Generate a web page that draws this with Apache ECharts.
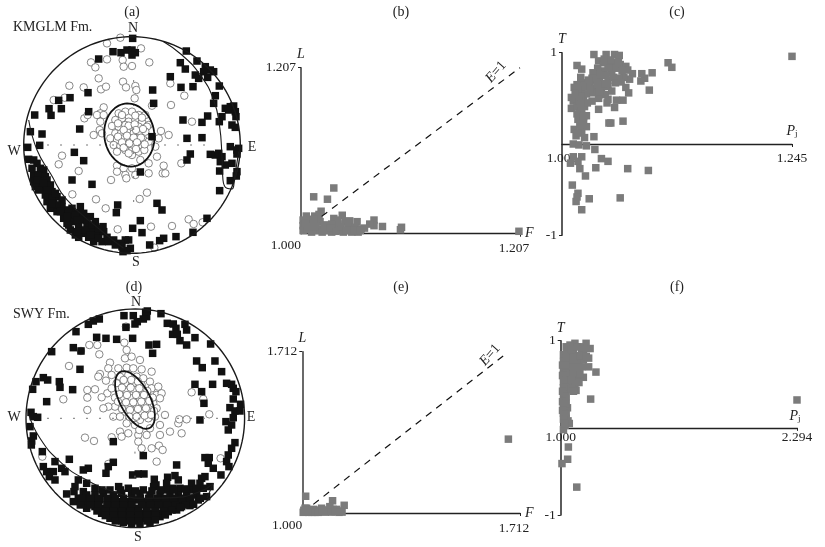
<!DOCTYPE html>
<html><head><meta charset="utf-8">
<style>html,body{margin:0;padding:0;background:#fff}#c{width:825px;height:547px}</style>
<script src="https://cdn.jsdelivr.net/npm/echarts@6/dist/echarts.min.js"></script>
</head><body><div id="c"></div>
<script>
// Stereonet (a): net units, radius 325, x east, y north
const netA_kmax=[[2,320],[-57,280],[-33,277],[-15,285],[0,285],[10,277],[0,270],[-100,258],[163,282],[195,252],[145,247],[160,228],[220,235],[235,225],[245,220],[215,220],[190,210],[200,200],[227,203],[115,205],[147,173],[183,175],[262,177],[62,165],[-132,157],[-186,142],[-220,134],[-249,109],[-212,109],[-243,89],[-130,100],[65,125],[250,148],[245,125],[305,117],[295,115],[280,110],[290,105],[310,100],[270,85],[312,85],[227,87],[-292,90],[153,75],[210,68],[262,70],[300,60],[310,53],[-157,48],[-305,40],[-270,33],[60,25],[165,20],[210,22],[295,-5],[-277,-1],[-313,-7],[320,-10],[315,-15],[315,-27],[175,-27],[165,-45],[235,-28],[250,-30],[260,-25],[270,-35],[265,-50],[280,-60],[300,-55],[-173,-22],[-145,-47],[263,-78],[315,-80],[313,-93],[295,-107],[263,-137],[25,-81],[-180,-105],[-120,-118],[75,-175],[90,-195],[-43,-180],[-47,-203],[25,-227],[2,-250],[30,-263],[225,-220],[183,-262],[132,-275],[95,-280],[83,-287],[53,-300],
[-310,-43],[-295,-45],[-285,-55],[-275,-70],[-265,-75],[-295,-90],[-280,-90],[-260,-95],[-295,-110],[-275,-110],[-255,-105],[-290,-125],[-270,-130],[-245,-120],[-260,-150],[-240,-140],[-225,-155],[-210,-165],[-255,-170],[-235,-175],[-210,-185],[-245,-190],[-225,-200],[-200,-205],[-180,-190],[-155,-185],[-205,-220],[-185,-215],[-160,-205],[-145,-205],[-195,-235],[-175,-230],[-150,-225],[-125,-215],[-185,-255],[-160,-245],[-135,-240],[-110,-230],[-170,-270],[-145,-265],[-120,-255],[-87,-245],[-160,-277],[-130,-277],[-105,-270],[-85,-260],[-115,-290],[-90,-290],[-55,-285],[-75,-277],[-20,-285],[-35,-295],[-10,-285],[-30,-305],[-5,-310],[-27,-320],[-15,-317],
[-300,-70],[-285,-105],[-265,-115],[-280,-135],[-250,-155],[-240,-160],[-225,-180],[-190,-195],[-170,-210],[-190,-240],[-165,-260],[-140,-255],[-125,-270],[-100,-280],[-135,-225],[-120,-240],[-100,-250],[-70,-290],[-50,-300],[-215,-200],[-195,-215],[-165,-225],[-230,-145],[-255,-135],[-240,-175]];
const netA_kmin=[[-35,322],[-75,305],[27,290],[-75,257],[-123,248],[-110,233],[-28,255],[-25,235],[0,237],[52,248],[-100,200],[-188,178],[-145,173],[-93,167],[-78,175],[-27,190],[-18,173],[10,177],[13,165],[115,185],[-235,135],[-202,142],[8,140],[157,148],[60,118],[117,120],[-85,113],[-95,95],[-143,80],[-133,90],[-105,90],[-85,90],[-95,70],[-97,45],[-115,30],[-90,35],[180,70],
[-40,95],[-20,100],[0,100],[20,90],[40,90],[-50,75],[-30,80],[-10,70],[10,75],[30,70],[50,60],[-60,57],[-40,55],[-20,60],[0,50],[20,55],[45,55],[-50,35],[-33,35],[-15,40],[5,35],[25,35],[40,40],[-65,20],[-45,15],[-25,20],[-5,15],[15,20],[35,15],[50,10],[-55,0],[-35,-3],[-15,0],[5,0],[25,-5],[-45,-20],[-20,-15],[0,-30],[20,-20],[37,-15],
[-30,90],[10,88],[30,82],[-42,65],[-10,58],[8,62],[33,48],[-25,45],[12,45],[-42,25],[-15,28],[5,22],[27,22],[-30,8],[-8,5],[15,8],[38,2],[-25,-8],[12,-12],[-10,-25],
[87,42],[110,30],[80,20],[70,-5],[75,-35],[-210,-32],[-220,-58],[-160,-78],[-45,-62],[-25,-70],[0,-70],[25,-45],[50,-55],[-45,-80],[-20,-90],[10,-90],[50,-85],[95,-62],[92,-85],[100,-85],[-63,-105],[-17,-100],[148,-55],[45,-143],[23,-162],[-108,-163],[-179,-148],[-79,-190],[170,-223],[185,-237],[212,-232],[120,-243],[57,-245],[-43,-253],[67,-308]];
const netA_arcE=[[95,310],[150,270],[205,210],[245,135],[263,55],[270,-35],[273,-105],[285,-130],[300,-132],[308,-95],[320,-20]];
const netA_arcW=[[-310,75],[-285,-15],[-245,-85],[-195,-165],[-95,-255],[-25,-310]];
const netA_oval={cx:-8,cy:30,major:95,minor:75,tilt:-8};
// Stereonet (d): radius 328
const netD_kmax=[[36,322],[31,318],[77,314],[-34,308],[-6,308],[34,305],[24,298],[6,290],[-1,283],[-108,298],[-126,292],[-141,282],[96,285],[114,283],[149,282],[122,270],[154,265],[112,252],[126,252],[-28,273],[-178,260],[-116,243],[-88,240],[-56,237],[-8,240],[179,242],[154,220],[134,233],[226,223],[41,220],[64,222],[52,195],[-186,212],[-163,202],[-251,200],[184,172],[239,172],[201,152],[-166,147],[259,140],[-276,122],[-263,115],[-298,110],[-228,110],[-226,93],[-308,87],[-188,86],[179,102],[232,102],[199,80],[274,105],[289,102],[294,90],[302,80],[206,45],[294,58],[316,42],[-266,50],[284,32],[299,22],[314,22],[-313,18],[-306,5],[-293,3],[194,-5],[294,2],[272,-10],[289,-20],[279,-35],[-316,-25],[-306,-53],[-311,-68],[-312,-80],[-66,-70],[299,-73],[289,-90],[24,-112],[279,-110],[274,-130],[281,-145],[209,-118],[222,-118],[219,-135],[234,-150],[-279,-100],[-198,-123],[-241,-130],[-66,-132],[-81,-145],[-141,-150],[-156,-155],[124,-140],[-88,-165],[257,-170],[-8,-170],[9,-167],[26,-167],[97,-177],[119,-172],[129,-185],[57,-183],[62,-200],[94,-195],[112,-210],
[-276,-145],[-266,-160],[-246,-160],[-221,-150],[-211,-160],[-258,-175],[-241,-185],[-171,-185],[-181,-205],[-146,-195],[-121,-210],[-206,-227],[-184,-220],[-156,-220],
[-76,-215],[-21,-210],[24,-215],[94,-215],[169,-195],[199,-180],[209,-175],[194,-195],[224,-205],[164,-215],[134,-210],[204,-210],[184,-210],[-50,-205],[55,-205],
[-171,-240],[-146,-230],[-121,-230],[-96,-225],[-66,-230],[-41,-225],[-11,-225],[14,-225],[44,-230],[74,-230],[104,-230],[129,-230],[154,-225],[184,-230],[214,-235],
[-186,-250],[-156,-250],[-131,-250],[-106,-245],[-76,-250],[-51,-250],[-26,-250],[4,-245],[29,-250],[54,-250],[84,-250],[109,-250],[134,-250],[159,-245],[189,-245],
[-146,-270],[-121,-265],[-96,-270],[-71,-265],[-46,-270],[-21,-265],[4,-270],[34,-265],[59,-270],[84,-265],[109,-265],[139,-265],[164,-262],
[-101,-285],[-76,-285],[-51,-285],[-26,-285],[-1,-285],[24,-285],[49,-285],[74,-285],[99,-280],[124,-275],
[-76,-300],[-51,-300],[-26,-300],[-1,-300],[24,-300],[49,-300],[74,-295],
[-36,-312],[-11,-318],[14,-318],[44,-315],
[-160,-240],[-135,-240],[-110,-240],[-85,-240],[-60,-240],[-35,-240],[-10,-240],[15,-240],[40,-240],[65,-240],[90,-240],[115,-240],[140,-240],[165,-240],[195,-240],
[-165,-260],[-135,-260],[-110,-260],[-85,-260],[-60,-260],[-35,-260],[-10,-260],[19,-260],[45,-260],[70,-260],[95,-260],[120,-260],[150,-260],[175,-258],
[-115,-278],[-90,-278],[-65,-278],[-40,-278],[-15,-278],[10,-278],[35,-278],[60,-278],[85,-278],[110,-275],[135,-268],
[-90,-292],[-65,-292],[-40,-292],[-15,-292],[10,-292],[35,-292],[60,-292],[90,-290],
[-60,-308],[-40,-308],[-15,-308],[10,-308],[35,-308],[60,-305],
[-100,-215],[-45,-215],[0,-218],[50,-218],[75,-215],[115,-215],[150,-212]];
const netD_kmin=[[-28,275],[-138,220],[-114,220],[-108,192],[-163,202],[-199,157],[-33,227],[-26,205],[-31,180],[-11,185],[14,175],[-76,167],[-81,150],[-51,150],[-26,152],[-6,150],[19,147],[49,140],[-106,133],[-88,113],[-71,130],
[-46,125],[-21,130],[4,125],[24,120],[-56,105],[-31,105],[-6,105],[19,100],[44,110],[-51,85],[-26,80],[-1,85],[24,80],[49,90],[69,95],[-61,62],[-36,60],[-11,60],[14,60],[39,65],[64,70],[79,75],[-46,40],[-21,35],[4,40],[29,40],[54,45],[74,60],[-31,20],[-6,15],[19,20],[44,20],[64,30],[-61,35],[-81,35],[-96,30],[-11,-5],[14,-5],[39,0],[59,5],[89,10],[-66,5],[-46,5],[-26,-15],[-1,-20],
[-35,115],[-12,115],[8,110],[-40,92],[-14,92],[12,90],[36,82],[-48,72],[-25,70],[2,70],[26,70],[52,62],[-52,50],[-28,48],[-6,48],[18,50],[42,52],[-40,28],[-16,25],[8,28],[32,30],[56,22],[-18,5],[4,5],[28,8],[48,10],
[-144,85],[-144,62],[-121,87],[-84,75],[-101,63],[-71,90],[-111,125],[-216,57],[-144,25],[-151,-58],[-124,-68],[-71,-57],[-46,-40],[-41,-55],[-21,-45],[9,-50],[34,-50],[74,-50],[104,-40],[139,-45],[129,-15],[132,-3],[154,-3],[222,12],[204,58],[169,78],[9,-70],[19,-90],[49,-90],[71,-82],[82,-95],[64,-130],[-81,-137],[-279,-115],[256,-120],[12,-35],[44,-30],[74,-20]];
const netD_arc=[[-321,15],[-286,-60],[-226,-130],[-156,-180],[-66,-220],[24,-240],[114,-238],[194,-220],[234,-195],[215,-240]];
const netD_oval={cx:-1,cy:55,major:95,minor:45,tilt:-28};
// Flinn diagrams
const flinnB=[[1.206,1.003],[1.031,1.057],[1.012,1.046],[1.025,1.043],[1.019,1.028],[1.077,1.009],[1.095,1.008],[1.094,1.005],[1.069,1.017],[1.069,1.010],[1.065,1.012],[1.005,1.022],[1.013,1.022],[1.039,1.023],[1.017,1.024],[1.031,1.019],[1.053,1.015],[1.046,1.016],[1.002,1.017],[1.002,1.010],[1.002,1.004],[1.007,1.015],[1.009,1.008],[1.012,1.012],[1.010,1.002],[1.015,1.004],[1.018,1.015],[1.018,1.006],[1.026,1.008],[1.029,1.002],[1.031,1.008],[1.035,1.012],[1.037,1.004],[1.040,1.002],[1.042,1.015],[1.045,1.008],[1.048,1.002],[1.051,1.008],[1.054,1.002],[1.057,1.006],[1.060,1.007],[1.035,1.017],[1.023,1.004],[1.029,1.012],
[1.006,1.005],[1.014,1.009],[1.022,1.011],[1.028,1.007],[1.033,1.003],[1.038,1.009],[1.043,1.004],[1.050,1.004],[1.056,1.004],[1.020,1.002],[1.007,1.009],[1.012,1.018],[1.004,1.013]];
const flinnE=[[1.674,1.326],[1.011,1.074],[1.099,1.054],[1.137,1.034],[1.112,1.016],[1.003,1.003],[1.014,1.021],[1.025,1.009],[1.036,1.016],[1.047,1.006],[1.058,1.013],[1.069,1.006],[1.080,1.013],[1.090,1.009],[1.101,1.016],[1.123,1.009],[1.009,1.021],[1.031,1.003],[1.063,1.021],[1.090,1.028],
[1.020,1.003],[1.042,1.003],[1.052,1.003],[1.075,1.004],[1.095,1.004],[1.108,1.006],[1.120,1.003],[1.130,1.004],[1.065,1.012],[1.015,1.008],[1.005,1.012]];
const lineB=[[1.0195,1.0216],[1.207,1.207]];
const lineE=[[1.036,1.038],[1.668,1.705]];
// Pj-T diagrams
const pjtC=[[1.245,.96],[1.113,.89],[1.117,.84],[1.096,.78],[1.085,.77],[1.088,.72],[1.084,.69],[1.093,.59],[1.068,.62],[1.071,.56],[1.065,.48],[1.058,.48],[1.056,.40],[1.049,.49],[1.048,.45],[1.039,.38],[1.065,.25],[1.052,.23],[1.050,.23],[1.034,.08],[1.034,.98],[1.047,.98],[1.056,.98],[1.061,.97],[1.039,.91],[1.044,.89],[1.049,.87],[1.055,.89],[1.062,.87],[1.068,.85],[1.070,.81],[1.075,.77],[1.072,.71],[1.066,.73],[1.060,.72],[1.053,.78],[1.044,.80],[1.037,.76],[1.040,.70],[1.049,.70],[1.035,.70],[1.030,.67],[1.023,.67],[1.016,.65],[1.021,.59],[1.028,.63],[1.035,.61],[1.042,.61],[1.049,.63],[1.053,.58],[1.046,.54],[1.039,.50],[1.032,.47],[1.016,.86],[1.021,.82],[1.020,.73],[1.010,.51],[1.017,.54],[1.023,.49],[1.012,.47],[1.010,.39],[1.016,.41],[1.024,.41],[1.019,.34],[1.026,.31],[1.017,.27],[1.023,.25],[1.013,.16],[1.026,.19],[1.021,.14],[1.015,.09],[1.024,.07],[1.012,.00],[1.018,-.01],[1.026,-.02],[1.035,-.06],[1.021,-.14],[1.012,-.14],[1.009,-.21],[1.017,-.19],[1.042,-.16],[1.049,-.19],[1.019,-.27],[1.036,-.26],[1.070,-.27],[1.092,-.29],[1.025,-.35],[1.011,-.45],[1.017,-.54],[1.016,-.58],[1.015,-.63],[1.029,-.60],[1.062,-.59],[1.021,-.72],
[1.045,.93],[1.038,.83],[1.051,.83],[1.058,.83],[1.064,.80],[1.060,.90],[1.052,.92],[1.033,.78],[1.041,.76],[1.047,.75],[1.055,.73],[1.032,.72],[1.028,.70],[1.045,.66],[1.038,.65],[1.022,.63],[1.017,.60],[1.013,.62],[1.026,.55],[1.033,.56],[1.040,.57],[1.020,.52],[1.014,.56],[1.018,.47],[1.027,.45],[1.021,.38],[1.016,.33],[1.023,.30],[1.019,.21],[1.017,.12],[1.020,.44],[1.057,.67],[1.063,.68],[1.030,.60]];
const pjtF=[[2.294,.32],[1.193,.64],[1.164,.33],[1.153,.70],[1.153,.80],[1.161,.91],[1.139,.97],[1.124,.58],[1.084,.43],[1.047,.05],[1.042,-.22],[1.038,-.36],[1.007,-.41],[1.088,-.68],[1.078,.97],[1.051,.95],[1.106,.93],[1.033,.89],[1.069,.89],[1.115,.86],[1.015,.84],[1.051,.82],[1.088,.82],[1.124,.78],[1.015,.76],[1.051,.74],[1.088,.74],[1.115,.70],[1.015,.68],[1.051,.67],[1.088,.67],[1.015,.61],[1.051,.59],[1.088,.59],[1.015,.53],[1.042,.51],[1.078,.51],[1.015,.46],[1.042,.44],[1.015,.38],[1.024,.32],[1.015,.24],[1.037,.23],[1.015,.17],[1.029,.11],[1.024,.03],[1.015,-.02],
[1.03,.93],[1.06,.90],[1.09,.93],[1.125,.90],[1.03,.80],[1.07,.80],[1.105,.83],[1.14,.82],[1.01,.72],[1.03,.72],[1.07,.70],[1.10,.70],[1.03,.63],[1.07,.62],[1.105,.62],[1.01,.60],[1.03,.55],[1.06,.55],[1.10,.52],[1.03,.47],[1.06,.45],[1.07,.42],[1.01,.42],[1.03,.36],[1.01,.30],[1.03,.28],[1.01,.20],[1.03,.16],[1.04,.08],[1.015,.10],[1.02,.05]];
// Tick labels
const ticksB=[1.000,1.207], ticksC=[1.000,1.245], ticksE=[1.000,1.712], ticksF=[1.000,2.294], ticksT=[-1,1];

const SERIF='"Liberation Serif","Times New Roman",serif';
const gray='#7b7b7b', ink='#1a1a1a';
function oval(o){const p=[],t=o.tilt*Math.PI/180;for(let i=0;i<=72;i++){const a=i/72*2*Math.PI,u=o.minor*Math.cos(a),v=o.major*Math.sin(a);p.push([o.cx+u*Math.cos(t)+v*Math.sin(t),o.cy-u*Math.sin(t)+v*Math.cos(t)]);}return p;}
const grids=[],xAxes=[],yAxes=[],series=[];
function addNet(box,R,kmin,kmax,arcs,ov,hx,vx){
  const g=grids.length;grids.push(box);
  xAxes.push({gridIndex:g,type:'value',min:-R,max:R,show:false});
  yAxes.push({gridIndex:g,type:'value',min:-R,max:R,show:false});
  const L=(data,w,c,extra)=>series.push(Object.assign({type:'line',xAxisIndex:g,yAxisIndex:g,data,symbol:'none',silent:true,clip:false,lineStyle:{width:w,color:c}},extra||{}));
  L(hx,1,'#777',{lineStyle:{width:1,color:'#777',type:[2,11]}});
  L(vx,1,'#777',{lineStyle:{width:1,color:'#777',type:[2,22]}});
  series.push({type:'scatter',xAxisIndex:g,yAxisIndex:g,data:kmin,symbol:'circle',symbolSize:7.5,clip:false,itemStyle:{color:'#fff',borderColor:'#555',borderWidth:.7,opacity:1}});
  series.push({type:'scatter',xAxisIndex:g,yAxisIndex:g,data:kmax,symbol:'rect',symbolSize:7.5,clip:false,itemStyle:{color:'#111',opacity:1}});
  const ci=[];for(let i=0;i<=144;i++){const a=i/144*2*Math.PI;ci.push([R*Math.cos(a),R*Math.sin(a)]);}
  L(ci,1.4,ink);
  arcs.forEach(a=>L(a,1.1,ink,{smooth:.5}));
  L(oval(ov),1.8,'#111');
}
function addPlot(box,xr,yr,xt,yt,pts,line,xn,yn,gapX,gapY,lblMargin){
  const g=grids.length;grids.push(box);
  const font={fontFamily:SERIF,fontSize:13.5,color:'#222'};
  xAxes.push({gridIndex:g,type:'value',min:xr[0],max:xr[1],splitLine:{show:false},position:'bottom',offset:line?0:-box.height/2,
    name:xn,nameLocation:'end',nameGap:gapX,nameMoveOverlap:false,nameTextStyle:{fontFamily:SERIF,fontSize:14,fontStyle:'italic',color:'#222'},
    axisLine:{show:true,onZero:false,lineStyle:{color:'#222',width:1.3}},
    axisTick:{show:true,length:3,inside:false,customValues:[xt[1]],lineStyle:{color:'#222'}},
    axisLabel:Object.assign({show:true,customValues:xt,margin:lblMargin,formatter:v=>{const s=(+v).toFixed(3);return line&&+v===xt[1]?'{m|'+s+'}':s;},rich:{m:{fontFamily:SERIF,fontSize:13.5,color:'#222',padding:[3,12,0,0]}},alignMinLabel:line?'right':'center',alignMaxLabel:'center',showMinLabel:true,showMaxLabel:true,hideOverlap:false},font)});
  yAxes.push({gridIndex:g,type:'value',min:yr[0],max:yr[1],splitLine:{show:false},
    name:yn,nameLocation:'end',nameGap:gapY,nameMoveOverlap:false,nameTextStyle:{fontFamily:SERIF,fontSize:14,fontStyle:'italic',color:'#222'},
    axisLine:{show:true,onZero:false,lineStyle:{color:line?'#444':'#333',width:1.6}},
    axisTick:{show:true,length:3,customValues:yt,lineStyle:{color:'#222'}},
    axisLabel:Object.assign({show:true,customValues:yt,margin:5,formatter:v=>line?(+v).toFixed(3):String(+v),showMinLabel:true,showMaxLabel:true,hideOverlap:false},font)});
  if(line)series.push({type:'line',xAxisIndex:g,yAxisIndex:g,data:line,symbol:'none',silent:true,clip:false,lineStyle:{color:'#111',width:1.2,type:[7,6]}});
  series.push({type:'scatter',xAxisIndex:g,yAxisIndex:g,data:pts,symbol:'rect',symbolSize:7.5,clip:false,itemStyle:{color:gray,opacity:1}});
}
addNet({left:23.7,top:36.7,width:216.6,height:216.6},325,netA_kmin,netA_kmax,[netA_arcE,netA_arcW],netA_oval,[[-255,0],[245,0]],[[5,195],[5,-195]]);
addPlot({left:301,top:67.7,width:219,height:166},ticksB,ticksB,ticksB,[ticksB[1]],flinnB,lineB,'F','L',5,6,5);
addPlot({left:562,top:52.7,width:230,height:182.6},ticksC,ticksT,ticksC,ticksT,pjtC,null,'','T',0,6,7);
addNet({left:26,top:309,width:218.6,height:218.6},328,netD_kmin,netD_kmax,[netD_arc],netD_oval,[[-265,0],[265,0]],[[-1,-100],[-1,-190]]);
addPlot({left:302.3,top:351.7,width:217.7,height:161.3},ticksE,ticksE,ticksE,[ticksE[1]],flinnE,lineE,'F','L',5,6,5);
addPlot({left:560.7,top:340.7,width:236.3,height:174.3},ticksF,ticksT,ticksF,ticksT,pjtF,null,'','T',0,5,3);

function txt(x,y,t,opt){return {type:'text',x,y,silent:true,rotation:(opt&&opt.rot)||0,style:Object.assign({text:t,fontFamily:SERIF,fontSize:14,fill:'#222',align:'center',verticalAlign:'middle',rich:{i:{fontFamily:SERIF,fontSize:14,fontStyle:'italic',fill:'#222'},s:{fontFamily:SERIF,fontSize:9,fontStyle:'normal',fill:'#222',verticalAlign:'bottom'}}},(opt&&opt.style)||{})};}
const panelLetters=['(a)','(b)','(c)','(d)','(e)','(f)'];
const panelPos=[[132,12],[401,12],[677,12],[134,287],[401,287],[677,287]];
const gfx=panelLetters.map((t,i)=>txt(panelPos[i][0],panelPos[i][1],t));
gfx.push(txt(13,27,'KMGLM Fm.',{style:{align:'left'}}),txt(13,314,'SWY Fm.',{style:{align:'left'}}));
[['N',133,28],['S',136,262],['W',14,151],['E',252,147],['N',136,302],['S',138,537],['W',14,417],['E',251,417]].forEach(d=>gfx.push(txt(d[1],d[2],d[0])));
gfx.push(txt(496,72,'{i|E}=1',{rot:.85}),txt(490,355,'{i|E}=1',{rot:.85}));
gfx.push(txt(792,131,'{i|P}{s|j}'),txt(795,416,'{i|P}{s|j}'));

const chart=echarts.init(document.getElementById('c'),null,{renderer:'canvas'});
chart.setOption({animation:false,backgroundColor:'#fff',tooltip:{show:false},legend:{show:false},grid:grids,xAxis:xAxes,yAxis:yAxes,series,graphic:gfx});
</script></body></html>
